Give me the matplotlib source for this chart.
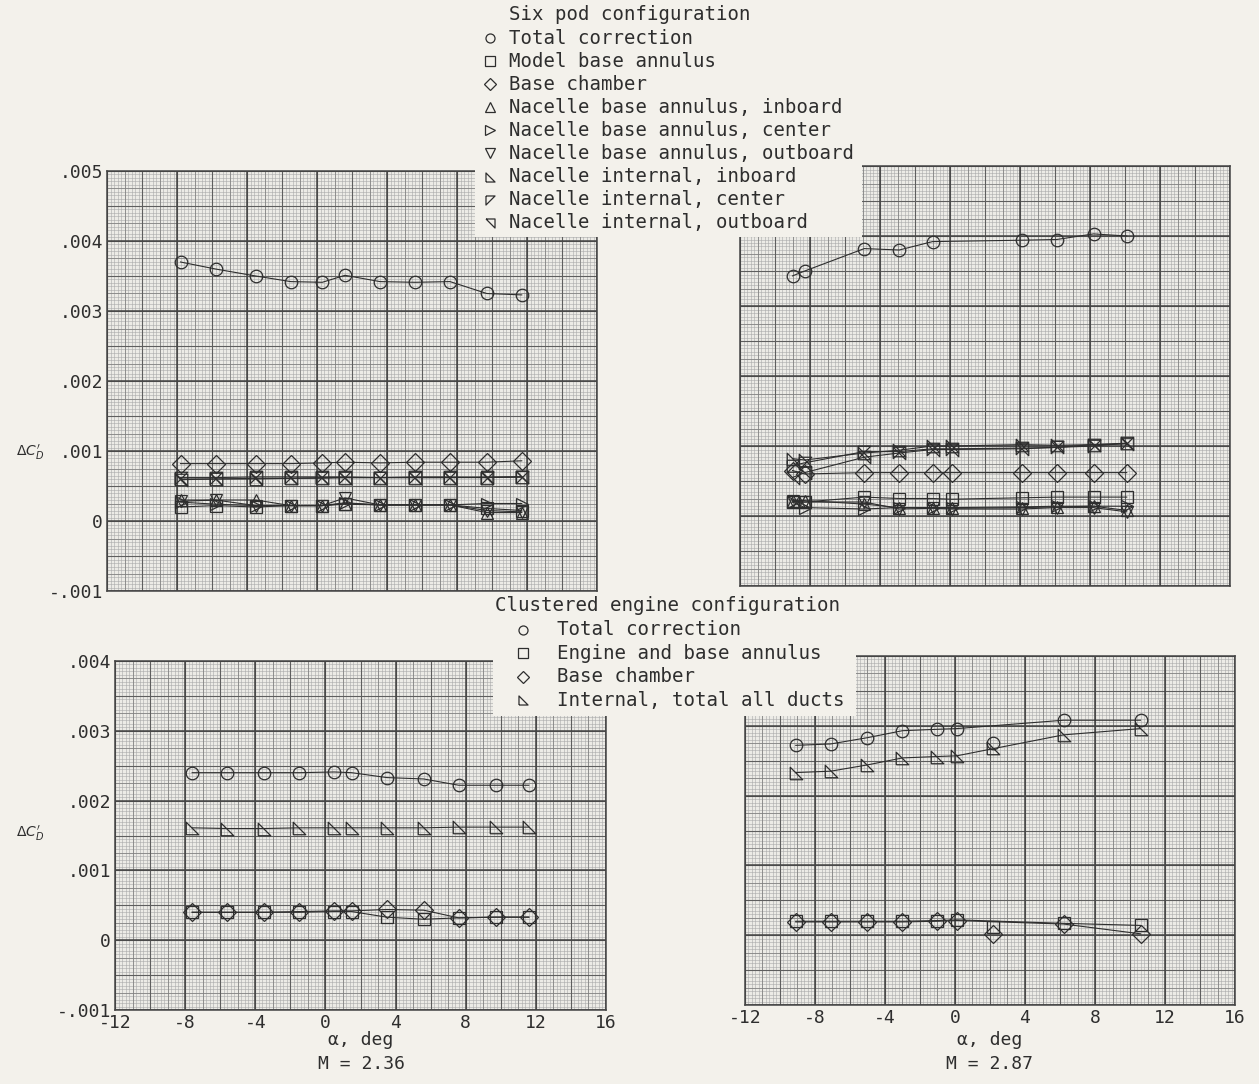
import numpy as np
import matplotlib.pyplot as plt

plt.rcParams['font.family'] = ['DejaVu Sans Mono', 'DejaVu Sans']
plt.rcParams['axes.unicode_minus'] = False
plt.rcParams['mathtext.fontset'] = 'dejavusans'

PAPER = '#f3f1eb'
INK = '#2e2e2e'

# ----------------------------------
# data (delta C'_D in units of 0.001)
# ----------------------------------
# six pod configuration, M = 2.36
alpha_tl = [-7.8, -5.8, -3.5, -1.5, 0.3, 1.6, 3.6, 5.6, 7.6, 9.7, 11.7]
total_tl = [3.70, 3.60, 3.50, 3.42, 3.41, 3.51, 3.42, 3.41, 3.42, 3.25, 3.23]
model_base_tl = [0.20, 0.22, 0.20, 0.22, 0.22, 0.24, 0.23, 0.23, 0.23, 0.18, 0.15]
chamber_tl = [0.82, 0.82, 0.82, 0.82, 0.83, 0.84, 0.83, 0.84, 0.84, 0.84, 0.86]
nb_in_tl = [0.30, 0.30, 0.30, 0.22, 0.22, 0.25, 0.23, 0.23, 0.23, 0.12, 0.12]
nb_cen_tl = [0.27, 0.24, 0.22, 0.22, 0.22, 0.26, 0.23, 0.23, 0.23, 0.25, 0.25]
nb_out_tl = [0.28, 0.30, 0.22, 0.22, 0.22, 0.33, 0.23, 0.23, 0.23, 0.15, 0.13]
ni_in_tl = [0.60, 0.60, 0.60, 0.61, 0.62, 0.62, 0.62, 0.62, 0.62, 0.62, 0.63]
ni_cen_tl = [0.62, 0.62, 0.63, 0.63, 0.63, 0.63, 0.62, 0.63, 0.63, 0.62, 0.63]
ni_out_tl = [0.59, 0.60, 0.61, 0.61, 0.61, 0.62, 0.62, 0.62, 0.62, 0.63, 0.63]

# six pod configuration, M = 2.87
alpha_tr_total = [-9.0, -8.3, -4.9, -2.9, -1.0, 4.1, 6.1, 8.2, 10.1]
total_tr = [3.43, 3.50, 3.82, 3.80, 3.92, 3.94, 3.95, 4.03, 4.00]
alpha_tr = [-9.0, -8.3, -4.9, -2.9, -1.0, 0.1, 4.1, 6.1, 8.2, 10.1]
model_base_tr = [0.20, 0.20, 0.27, 0.25, 0.25, 0.24, 0.26, 0.27, 0.27, 0.27]
chamber_tr = [0.65, 0.60, 0.62, 0.62, 0.62, 0.62, 0.62, 0.62, 0.62, 0.62]
nb_in_tr = [0.22, 0.22, 0.17, 0.12, 0.12, 0.11, 0.12, 0.13, 0.14, 0.08]
nb_cen_tr = [0.20, 0.12, 0.10, 0.12, 0.12, 0.12, 0.13, 0.14, 0.14, 0.14]
nb_out_tr = [0.21, 0.20, 0.20, 0.10, 0.11, 0.10, 0.10, 0.12, 0.12, 0.06]
ni_in_tr = [0.82, 0.80, 0.90, 0.94, 1.00, 1.00, 1.02, 1.01, 1.02, 1.04]
ni_cen_tr = [0.72, 0.76, 0.92, 0.92, 0.96, 0.96, 0.97, 0.98, 1.00, 1.04]
ni_out_tr = [0.55, 0.62, 0.84, 0.90, 0.95, 0.95, 0.96, 0.98, 1.02, 1.03]

# clustered engine configuration, M = 2.36
alpha_bl = [-7.6, -5.6, -3.5, -1.5, 0.5, 1.5, 3.5, 5.6, 7.6, 9.7, 11.6]
total_bl = [2.40, 2.40, 2.40, 2.40, 2.41, 2.40, 2.33, 2.31, 2.22, 2.22, 2.22]
engine_bl = [0.40, 0.40, 0.40, 0.40, 0.41, 0.41, 0.33, 0.30, 0.32, 0.33, 0.33]
chamber_bl = [0.40, 0.40, 0.40, 0.41, 0.42, 0.42, 0.44, 0.43, 0.32, 0.33, 0.33]
internal_bl = [1.61, 1.60, 1.60, 1.61, 1.61, 1.61, 1.61, 1.61, 1.62, 1.62, 1.62]

# clustered engine configuration, M = 2.87
alpha_br = [-9.1, -7.1, -5.0, -3.0, -1.0, 0.1, 2.2, 6.2, 10.6]
total_br = [2.72, 2.74, 2.83, 2.93, 2.95, 2.96, 2.75, 3.08, 3.08]
engine_br = [0.20, 0.20, 0.20, 0.20, 0.21, 0.22, 0.12, 0.17, 0.14]
chamber_br = [0.19, 0.19, 0.19, 0.19, 0.20, 0.21, 0.02, 0.16, 0.02]
internal_br = [2.33, 2.35, 2.44, 2.54, 2.56, 2.57, 2.68, 2.87, 2.96]
faired_br = [True, True, True, True, True, True, False, True, True]

x_ticks = [-12, -8, -4, 0, 4, 8, 12, 16]
y_ticks_top = [5, 4, 3, 2, 1, 0, -1]
y_labels_top = ['.005', '.004', '.003', '.002', '.001', '0', '-.001']
y_ticks_bot = [4, 3, 2, 1, 0, -1]
y_labels_bot = ['.004', '.003', '.002', '.001', '0', '-.001']

six_labels = ['Total correction', 'Model base annulus', 'Base chamber',
              'Nacelle base annulus, inboard', 'Nacelle base annulus, center',
              'Nacelle base annulus, outboard', 'Nacelle internal, inboard',
              'Nacelle internal, center', 'Nacelle internal, outboard']
cluster_labels = ['Total correction', 'Engine and base annulus', 'Base chamber',
                  'Internal, total all ducts']

# marker shapes (closed right triangles)
TRI_IN = [(-1, -1), (-1, 1), (1, -1), (-1, -1)]
TRI_CEN = [(-1, 1), (1, 1), (-1, -1), (-1, 1)]
TRI_OUT = [(-1, 1), (1, 1), (1, -1), (-1, 1)]
six_markers = ['o', 's', 'D', '^', '>', 'v', TRI_IN, TRI_CEN, TRI_OUT]
cluster_markers = ['o', 's', 'D', TRI_IN]

W, H = 1259, 1084
fig = plt.figure(figsize=(W / 100, H / 100), dpi=100, facecolor=PAPER)


def px_axes(x0, y_top, x1, y_bot, z=1):
    return fig.add_axes([x0 / W, 1 - y_bot / H, (x1 - x0) / W, (y_bot - y_top) / H], zorder=z)


def graph_paper(ax, ylo, yhi):
    ax.set_facecolor('#ecebe6')
    ax.set_xlim(-12, 16)
    ax.set_ylim(ylo, yhi)
    levels = [(20, '#a9a9a9', 0.4), (4, '#808080', 0.55), (2, '#5e5e5e', 0.8), (1, '#444444', 1.1)]
    for n, col, lw in levels:
        xs = np.linspace(-12, 16, 7 * n + 1)
        ys = np.linspace(ylo, yhi, (yhi - ylo) * n + 1)
        ax.vlines(xs, ylo, yhi, colors=col, lw=lw, zorder=0)
        ax.hlines(ys, -12, 16, colors=col, lw=lw, zorder=0)
    for s in ax.spines.values():
        s.set_color('#444444')
        s.set_linewidth(1.1)
    ax.tick_params(length=0, labelsize=13, colors=INK, pad=3)
    ax.set_xticks(x_ticks)
    ax.set_xticklabels([])
    ax.set_yticks([])


def series(ax, x, y, marker, faired=None, ms=9):
    x = np.asarray(x)
    y = np.asarray(y)
    ax.plot(x, y, ls='none', marker=marker, ms=ms, mfc='none', mec=INK, mew=0.9, zorder=3)
    m = np.ones(len(x), bool) if faired is None else np.asarray(faired)
    ax.plot(x[m], y[m], color=INK, lw=0.8, zorder=2)


# ----------------------------------
# panels
# ----------------------------------
ax_tl = px_axes(107, 171, 597, 591)
graph_paper(ax_tl, -1, 5)
ax_tl.set_yticks(y_ticks_top)
ax_tl.set_yticklabels(y_labels_top)
for vals, mk in zip([total_tl, model_base_tl, chamber_tl, nb_in_tl, nb_cen_tl, nb_out_tl,
                     ni_in_tl, ni_cen_tl, ni_out_tl], six_markers):
    series(ax_tl, alpha_tl, vals, mk)

ax_tr = px_axes(740, 166, 1230, 586)
graph_paper(ax_tr, -1, 5)
series(ax_tr, alpha_tr_total, total_tr, 'o')
for vals, mk in zip([model_base_tr, chamber_tr, nb_in_tr, nb_cen_tr, nb_out_tr,
                     ni_in_tr, ni_cen_tr, ni_out_tr], six_markers[1:]):
    series(ax_tr, alpha_tr, vals, mk)

ax_bl = px_axes(115, 661, 606, 1010)
graph_paper(ax_bl, -1, 4)
ax_bl.set_yticks(y_ticks_bot)
ax_bl.set_yticklabels(y_labels_bot)
ax_bl.set_xticklabels([str(t) for t in x_ticks])
for vals, mk in zip([total_bl, engine_bl, chamber_bl, internal_bl], cluster_markers):
    series(ax_bl, alpha_bl, vals, mk)

ax_br = px_axes(745, 656, 1235, 1005)
graph_paper(ax_br, -1, 4)
ax_br.set_xticklabels([str(t) for t in x_ticks])
for vals, mk in zip([total_br, engine_br, chamber_br, internal_br], cluster_markers):
    series(ax_br, alpha_br, vals, mk, faired=faired_br)

# axis titles
for y in (452, 833):
    fig.text(30 / W, 1 - y / H, r"$\Delta C_D^{\prime}$", fontsize=10, color=INK,
             ha='center', va='center')
for xc, mach in ((361, '2.36'), (990, '2.87')):
    fig.text(xc / W, 1 - 1040 / H, 'α, deg', fontsize=13, color=INK, ha='center', va='center')
    fig.text(xc / W, 1 - 1064 / H, 'M = ' + mach, fontsize=13, color=INK, ha='center', va='center')

# ----------------------------------
# legends (paper-coloured boxes over the grids)
# ----------------------------------
def legend_box(x0, y0, x1, y1):
    ax = px_axes(x0, y0, x1, y1, z=5)
    ax.set_facecolor(PAPER)
    ax.set_xlim(x0, x1)
    ax.set_ylim(y1, y0)
    ax.set_xticks([])
    ax.set_yticks([])
    for s in ax.spines.values():
        s.set_visible(False)
    return ax


leg1 = legend_box(475, 0, 862, 237)
leg1.text(509, 14, 'Six pod configuration', fontsize=13.7, color=INK, va='center')
for i, (lab, mk) in enumerate(zip(six_labels, six_markers)):
    y = 38 + i * 23.1
    leg1.plot(490, y, marker=mk, ms=6.5, mfc='none', mec=INK, mew=0.9, ls='none')
    leg1.text(509, y, lab, fontsize=13.7, color=INK, va='center')

leg2 = legend_box(493, 594, 856, 716)
leg2.text(495, 606, 'Clustered engine configuration', fontsize=13.8, color=INK, va='center')
for i, (lab, mk) in enumerate(zip(cluster_labels, cluster_markers)):
    y = 630 + i * 23.4
    leg2.plot(523, y, marker=mk, ms=6.5, mfc='none', mec=INK, mew=0.9, ls='none')
    leg2.text(557, y, lab, fontsize=13.8, color=INK, va='center')

plt.savefig('out.png', dpi=100, facecolor=PAPER)
